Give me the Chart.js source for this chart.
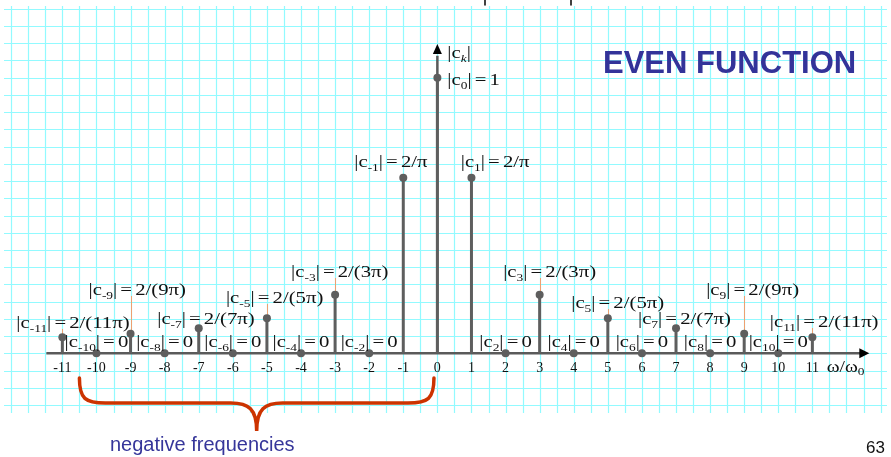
<!DOCTYPE html>
<html>
<head>
<meta charset="utf-8">
<title>Even function – magnitude spectrum</title>
<script src="https://cdn.jsdelivr.net/npm/chart.js@4.4.1/dist/chart.umd.min.js"></script>
<style>
  html, body { margin: 0; padding: 0; background: #fff; }
  #wrap { width: 891px; height: 457px; }
</style>
</head>
<body>
<div id="wrap"><canvas id="spectrum" width="891" height="457"></canvas></div>
<script>
// ------------------- DATA -------------------
const harmonics = [-11, -10, -9, -8, -7, -6, -5, -4, -3, -2, -1, 0, 1, 2, 3, 4, 5, 6, 7, 8, 9, 10, 11];
const magnitudes = [0.0579, 0, 0.0707, 0, 0.0909, 0, 0.1273, 0, 0.2122, 0, 0.6366, 1,
                    0.6366, 0, 0.2122, 0, 0.1273, 0, 0.0909, 0, 0.0707, 0, 0.0579];
const magnitudeText = ["2/(11π)", "0", "2/(9π)", "0", "2/(7π)", "0", "2/(5π)", "0", "2/(3π)", "0", "2/π", "1",
                       "2/π", "0", "2/(3π)", "0", "2/(5π)", "0", "2/(7π)", "0", "2/(9π)", "0", "2/(11π)"];
const tickLabels = ["-11", "-10", "-9", "-8", "-7", "-6", "-5", "-4", "-3", "-2", "-1", "0",
                    "1", "2", "3", "4", "5", "6", "7", "8", "9", "10", "11"];

// ------------------- LAYOUT -------------------
// label left edge relative to the stem (px), null = centred on the point
const labelDx = [-46, null, -42, null, -41.5, null, -41, null, -44, null, -49, 10,
                 -10.7, null, -36.5, null, -36.6, null, -38, null, -38, null, -42.6];
// label baseline, in |c_k| units
const labelBase = [0.092, 0.0229, 0.2115, 0.0229, 0.105, 0.0229, 0.1825, 0.0229, 0.277, 0.0229, 0.676, 0.974,
                   0.676, 0.0229, 0.277, 0.0229, 0.1644, 0.0229, 0.105, 0.0229, 0.2115, 0.0229, 0.0954];

const STEM = '#5e5e5e';
const GRID = '#92faff';
const GRID_DX = 0.5;      // paper grid: half a harmonic across
const GRID_DY = 0.0625;   // and 1/16 of |c_0| up
const MATH_FONT = '"Liberation Serif", "Times New Roman", serif';
const SANS = '"Liberation Sans", Arial, sans-serif';
const STRETCH = 1.22;
const LABEL_SIZE = 17;

function fontFor(kind, size) {
    if (kind === 's') return `${Math.round(size * 0.66)}px ${MATH_FONT}`;
    if (kind === 'i') return `italic ${Math.round(size * 0.66)}px ${MATH_FONT}`;
    return `${size}px ${MATH_FONT}`;
}

// pieces are [text, kind]: kind = 'm' main, 's' subscript, 'i' italic sub, 'g' gap
function mathWidth(ctx, parts, size) {
    let w = 0;
    parts.forEach(([t, kind]) => {
        if (kind === 'g') { w += size * 0.15; return; }
        ctx.font = fontFor(kind, size);
        w += ctx.measureText(t).width;
    });
    return w * STRETCH;
}

function drawMath(ctx, parts, x, y, size, align) {
    const w = mathWidth(ctx, parts, size);
    const left = align === 'center' ? x - w / 2 : x;
    ctx.save();
    ctx.translate(left, y);
    ctx.scale(STRETCH, 1);
    ctx.textBaseline = 'alphabetic';
    ctx.textAlign = 'left';
    let cx = 0;
    parts.forEach(([t, kind]) => {
        if (kind === 'g') { cx += size * 0.15; return; }
        ctx.font = fontFor(kind, size);
        const dy = (kind === 's' || kind === 'i') ? size * 0.22 : 0;
        ctx.fillText(t, cx, dy);
        cx += ctx.measureText(t).width;
    });
    ctx.restore();
}

function coefParts(k, rhs) {
    return [['|c', 'm'], [String(k), 's'], ['|', 'm'], ['', 'g'], ['=', 'm'], ['', 'g'], [rhs, 'm']];
}

// ------------------- DECORATION PLUGIN -------------------
const spectrumDecor = {
    id: 'spectrumDecor',
    beforeDatasetsDraw(chart) {
        const { ctx, chartArea: area, scales: { x, y } } = chart;
        const y0 = y.getPixelForValue(0);
        const x0 = x.getPixelForValue(0);
        ctx.save();

        // graph paper
        ctx.strokeStyle = GRID;
        ctx.lineWidth = 1.2;
        ctx.beginPath();
        for (let v = Math.ceil(x.min / GRID_DX) * GRID_DX; v < x.max; v += GRID_DX) {
            const px = Math.round(x.getPixelForValue(v)) + 0.5;
            ctx.moveTo(px, area.top);
            ctx.lineTo(px, area.bottom);
        }
        for (let v = Math.ceil(y.min / GRID_DY) * GRID_DY; v < y.max; v += GRID_DY) {
            const py = Math.round(y.getPixelForValue(v)) + 0.5;
            ctx.moveTo(area.left, py);
            ctx.lineTo(area.right, py);
        }
        ctx.stroke();

        // frequency axis
        ctx.strokeStyle = '#5a5a5a';
        ctx.lineWidth = 2.5;
        ctx.beginPath();
        ctx.moveTo(x.getPixelForValue(-11.47), y0);
        ctx.lineTo(x.getPixelForValue(12.45), y0);
        ctx.stroke();
        const xt = x.getPixelForValue(12.67);
        ctx.fillStyle = '#000';
        ctx.beginPath();
        ctx.moveTo(xt, y0);
        ctx.lineTo(xt - 10, y0 - 5);
        ctx.lineTo(xt - 10, y0 + 5);
        ctx.closePath();
        ctx.fill();

        // |c_k| axis
        ctx.beginPath();
        ctx.moveTo(x0, y0);
        ctx.lineTo(x0, y.getPixelForValue(1.08));
        ctx.stroke();
        const yt = y.getPixelForValue(1.122);
        ctx.beginPath();
        ctx.moveTo(x0, yt);
        ctx.lineTo(x0 - 4.5, yt + 10);
        ctx.lineTo(x0 + 4.5, yt + 10);
        ctx.closePath();
        ctx.fill();

        // leader lines from the odd labels down to their points
        ctx.strokeStyle = '#eea070';
        ctx.lineWidth = 1;
        harmonics.forEach((k, i) => {
            if (k % 2 === 0 || Math.abs(k) === 1) return;
            const px = Math.round(x.getPixelForValue(k)) + 0.5;
            const top = y.getPixelForValue(labelBase[i]) + 1;
            const bot = y.getPixelForValue(magnitudes[i]);
            if (bot <= top) return;
            ctx.beginPath();
            ctx.moveTo(px, top);
            ctx.lineTo(px, bot);
            ctx.stroke();
        });
        ctx.restore();
    },
    afterDatasetsDraw(chart) {
        const { ctx, scales: { x, y } } = chart;
        const y0 = y.getPixelForValue(0);
        ctx.save();
        ctx.fillStyle = '#111';

        // coefficient labels
        harmonics.forEach((k, i) => {
            const parts = coefParts(k, magnitudeText[i]);
            const px = x.getPixelForValue(k);
            const py = y.getPixelForValue(labelBase[i]);
            if (labelDx[i] === null) drawMath(ctx, parts, px, py, LABEL_SIZE, 'center');
            else drawMath(ctx, parts, px + labelDx[i], py, LABEL_SIZE, 'left');
        });

        // axis name
        drawMath(ctx, [['|c', 'm'], ['k', 'i'], ['|', 'm']],
            x.getPixelForValue(0) + 10, y.getPixelForValue(1.07), LABEL_SIZE, 'left');

        // tick numbers
        harmonics.forEach((k, i) => {
            ctx.font = `14px ${MATH_FONT}`;
            ctx.textAlign = 'center';
            ctx.textBaseline = 'alphabetic';
            ctx.fillText(tickLabels[i], x.getPixelForValue(k), y0 + 18.5);
        });
        drawMath(ctx, [['ω/ω', 'm'], ['0', 's']], x.getPixelForValue(11.42), y0 + 18.5, 16, 'left');

        // title
        ctx.fillStyle = '#333399';
        ctx.font = `bold 31px ${SANS}`;
        ctx.textAlign = 'left';
        ctx.fillText('EVEN FUNCTION', 603, 72.5);

        // brace under the negative half
        const xl = x.getPixelForValue(-10.5), xr = x.getPixelForValue(-0.1), xc = x.getPixelForValue(-5.3);
        const top = 378, mid = 403, tip = 431;
        ctx.strokeStyle = '#cc3300';
        ctx.lineWidth = 3.5;
        ctx.lineCap = 'round';
        ctx.beginPath();
        ctx.moveTo(xl, top);
        ctx.bezierCurveTo(xl, mid - 4, xl + 6, mid, xl + 26, mid);
        ctx.lineTo(xc - 26, mid);
        ctx.bezierCurveTo(xc - 8, mid, xc, mid + 6, xc, tip);
        ctx.bezierCurveTo(xc, mid + 6, xc + 8, mid, xc + 26, mid);
        ctx.lineTo(xr - 26, mid);
        ctx.bezierCurveTo(xr - 6, mid, xr, mid - 4, xr, top);
        ctx.stroke();

        ctx.fillStyle = '#36369a';
        ctx.font = `20px ${SANS}`;
        ctx.fillText('negative frequencies', 110, 451);

        ctx.fillStyle = '#111';
        ctx.font = `17px ${SANS}`;
        ctx.textAlign = 'right';
        ctx.fillText('63', 885, 453);

        // two stray marks at the top edge
        ctx.strokeStyle = '#000';
        ctx.lineWidth = 1.5;
        [485, 571].forEach(mx => {
            ctx.beginPath();
            ctx.moveTo(mx, 0);
            ctx.lineTo(mx, 5);
            ctx.stroke();
        });
        ctx.restore();
    }
};

// ------------------- CHART -------------------
const points = harmonics.map((k, i) => ({ x: k, y: magnitudes[i] }));

new Chart(document.getElementById('spectrum').getContext('2d'), {
    type: 'bar',
    data: {
        datasets: [
            {
                type: 'bar',
                data: points,
                backgroundColor: STEM,
                borderWidth: 0,
                barThickness: 3,
                inflateAmount: 0
            },
            {
                type: 'scatter',
                data: points,
                showLine: false,
                pointRadius: 4,
                pointBackgroundColor: STEM,
                pointBorderWidth: 0
            }
        ]
    },
    options: {
        responsive: false,
        animation: false,
        events: [],
        layout: { padding: { top: 6, bottom: 44, left: 0, right: 0 } },
        plugins: { legend: { display: false }, tooltip: { enabled: false } },
        scales: {
            x: { type: 'linear', display: false, offset: false, min: -12.712, max: 13.189 },
            y: { type: 'linear', display: false, min: -0.2166, max: 1.2602 }
        }
    },
    plugins: [spectrumDecor]
});
</script>
</body>
</html>
